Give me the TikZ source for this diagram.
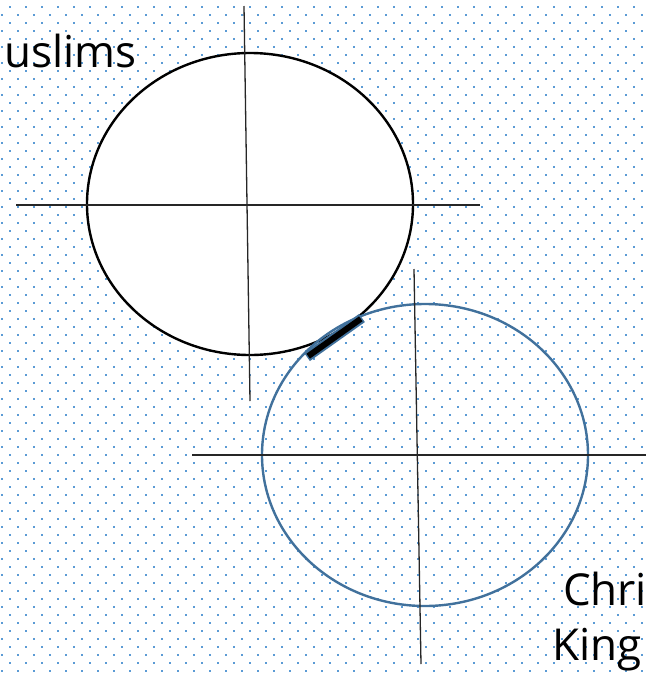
\documentclass[tikz,border=0pt]{standalone}
\usepackage{fontspec}
\setmainfont{Open Sans}
\definecolor{dotblue}{HTML}{5B9BD5}
\definecolor{ringblue}{HTML}{41719C}
\begin{document}
\begin{tikzpicture}[x=1pt,y=-1pt,
  axisline/.style={line width=1.3pt,black!85},
  ring/.style={line width=2.4pt},
  label/.style={anchor=base west,inner sep=0pt,font=\fontsize{44}{52}\selectfont}]
\useasboundingbox (0,0) rectangle (646,673);
\fill[white] (0,0) rectangle (646,673);
% dotted background
\foreach \j in {0,...,83} {
  \pgfmathsetmacro{\yy}{7+8*\j}
  \pgfmathsetmacro{\xo}{ifthenelse(mod(\j,2)==0,10,2)}
  \foreach \i in {0,...,40}
    \fill[dotblue] (\xo+16*\i-1,\yy-1) rectangle ++(2,2);
}
\coordinate (mc) at (250,204);
\coordinate (cc) at (425,455);
\draw[ring,black,fill=white] (mc) ellipse [x radius=163,y radius=151];
\draw[ring,ringblue] (cc) ellipse [x radius=163,y radius=151];
% crosshairs
\coordinate (mtop) at (244,6);
\coordinate (mbot) at (250,401);
\coordinate (mleft) at (16,205);
\coordinate (mright) at (480,205);
\draw[axisline] (mtop) -- (mbot);
\draw[axisline] (mleft) -- (mright);
\coordinate (ctop) at (414,269);
\coordinate (cbot) at (421,664);
\coordinate (cleft) at (192,455);
\coordinate (cright) at (646,455);
\draw[axisline] (ctop) -- (cbot);
\draw[axisline] (cleft) -- (cright);
% shared border piece
\coordinate (ba) at (307,357);
\coordinate (bb) at (362,318);
\draw[line width=10pt,ringblue] (ba) -- (bb);
\draw[line width=6pt,black,shorten <=1.5pt,shorten >=1.5pt] (ba) -- (bb);
\node[label] (muslims) at (4,67) {uslims};
\node[label] (chri) at (563,605) {Chri};
\node[label] (king) at (552,660) {King};
\end{tikzpicture}
\end{document}
